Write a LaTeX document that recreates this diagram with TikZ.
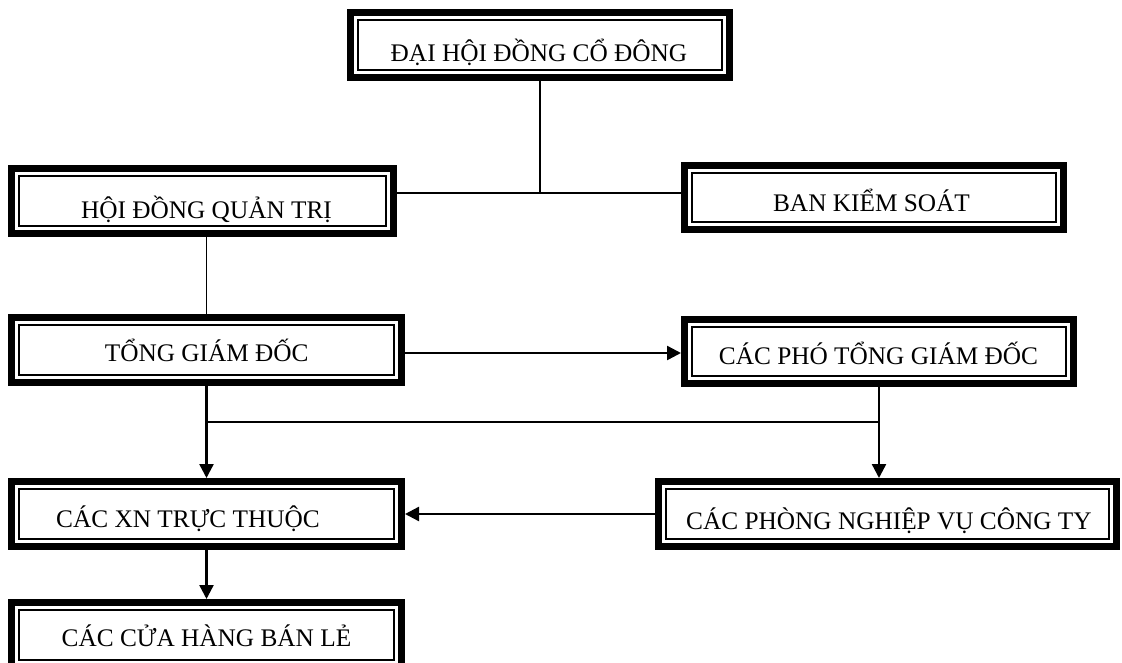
\documentclass[tikz,border=0pt]{standalone}
\usepackage{fontspec}
\setmainfont{Liberation Serif}
\usetikzlibrary{arrows.meta}
\tikzset{
  frame/.style={rectangle, inner sep=0pt, outer sep=0pt, minimum height=72pt},
  lbl/.style={font=\fontsize{25.3}{30}\selectfont, anchor=base, inner sep=0pt},
  con/.style={line width=1.8pt},
  arr/.style={line width=2.4pt, -{Triangle[length=14pt,width=14pt]}},
}
\begin{document}
\begin{tikzpicture}[x=1pt,y=-1pt]
\useasboundingbox (0,0) rectangle (1122,662);
\clip (0,0) rectangle (1122,662);
% boxes
\node[frame, minimum width=386pt] (dh) at (540,45) {};
\node[frame, minimum width=389pt] (hd) at (202.5,201) {};
\node[frame, minimum width=386pt, minimum height=71pt] (bk) at (874,197.5) {};
\node[frame, minimum width=397pt] (tg) at (206.5,350) {};
\node[frame, minimum width=396pt, minimum height=71pt] (cp) at (879,351.5) {};
\node[frame, minimum width=397pt] (cx) at (206.5,514) {};
\node[frame, minimum width=465pt] (pn) at (887.5,514) {};
\node[frame, minimum width=397pt] (ch) at (206.5,635) {};
\foreach \n in {dh,hd,bk,tg,cp,cx,pn,ch}{
  \draw[line width=7pt] ([shift={(3.5pt,-3.5pt)}]\n.north west) rectangle ([shift={(-3.5pt,3.5pt)}]\n.south east);
  \draw[line width=1.8pt] ([shift={(10.8pt,-10.8pt)}]\n.north west) rectangle ([shift={(-10.8pt,10.8pt)}]\n.south east);
}
% labels
\node[lbl] (dh-t) at (539,61.5) {ĐẠI HỘI ĐỒNG CỔ ĐÔNG};
\node[lbl] (hd-t) at (206.5,218.5) {HỘI ĐỒNG QUẢN TRỊ};
\node[lbl] (bk-t) at (871.5,211) {BAN KIỂM SOÁT};
\node[lbl] (tg-t) at (206.7,361.5) {TỔNG GIÁM ĐỐC};
\node[lbl] (cp-t) at (878.5,364.5) {CÁC PHÓ TỔNG GIÁM ĐỐC};
\node[lbl] (cx-t) at (188,527) {CÁC XN TRỰC THUỘC};
\node[lbl] (pn-t) at (889,529) {CÁC PHÒNG NGHIỆP VỤ CÔNG TY};
\node[lbl] (ch-t) at (206.5,646.5) {CÁC CỬA HÀNG BÁN LẺ};
% connectors
\coordinate (j1) at (542,193);
\draw[con] (dh.south) -- (dh.south |- j1);
\draw[con] (hd.east |- j1) -- (bk.west |- j1);
\draw[con] (tg.north |- hd.south) -- (tg.north);
\draw[arr] ([yshift=-3pt]tg.east) -- ([yshift=-3pt]tg.east -| cp.west);
\draw[arr] (tg.south) -- (cx.north);
\coordinate (j2) at (0,422);
\draw[con] (tg.south |- j2) -- (cp.south |- j2);
\draw[arr] (cp.south) -- (cp.south |- pn.north);
\draw[arr] (pn.west) -- (pn.west -| cx.east);
\draw[arr] (cx.south) -- (ch.north);
\end{tikzpicture}
\end{document}
